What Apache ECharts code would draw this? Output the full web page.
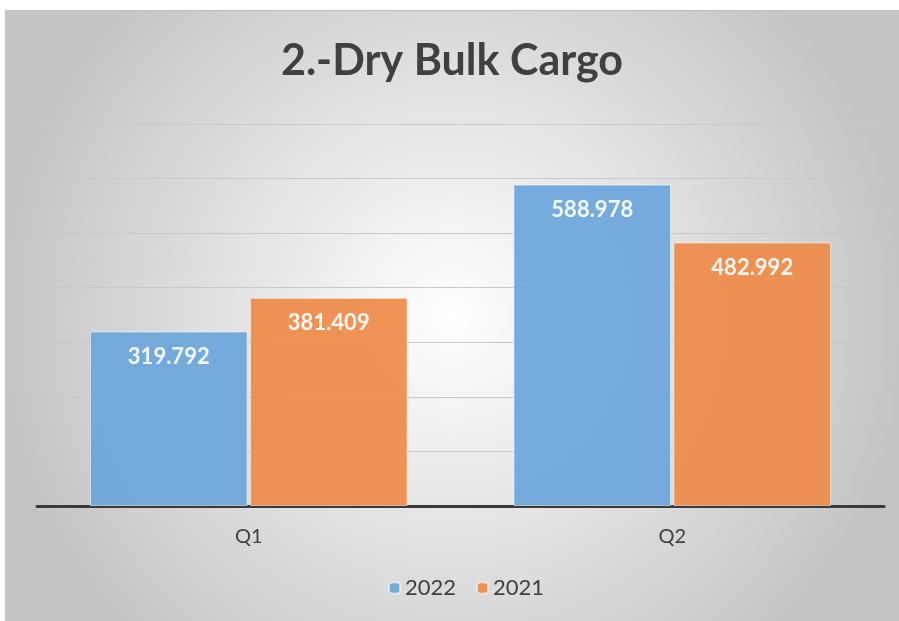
<!DOCTYPE html>
<html>
<head>
<meta charset="utf-8">
<script src="https://cdn.jsdelivr.net/npm/echarts@6/dist/echarts.min.js"></script>
<style>
  html, body { margin: 0; padding: 0; background: #fff; }
  #chart { position: absolute; left: 5px; top: 10px; width: 894px; height: 611px; border-top: 1px solid #bdbdbd; box-sizing: border-box; }
</style>
</head>
<body>
<div id="chart"></div>
<script>
var categories = ['Q1', 'Q2'];
var values2022 = [319.792, 588.978];
var values2021 = [381.409, 482.992];

(function () {
    var chartDom = document.getElementById('chart');
    var myChart = echarts.init(chartDom);

    var labelStyle = {
        show: true,
        position: 'insideTop',
        distance: 14,
        color: '#fff',
        fontFamily: 'Lato',
        fontWeight: 'bold',
        fontSize: 22,
        formatter: function (p) { return p.value.toFixed(3); }
    };

    var option = {
        backgroundColor: {
            type: 'radial', x: 0.5, y: 0.5, r: 0.75,
            colorStops: [
                { offset: 0, color: '#ffffff' },
                { offset: 1, color: '#c4c4c4' }
            ]
        },
        title: {
            text: '2.-Dry Bulk Cargo',
            left: 'center',
            top: 24,
            padding: [5, 5, 5, 19],
            textStyle: { fontFamily: 'Lato', fontWeight: 'bold', fontSize: 43, color: '#404040' }
        },
        legend: {
            bottom: 17,
            left: 378,
            itemWidth: 11,
            itemHeight: 11,
            itemGap: 20,
            textStyle: { fontFamily: 'Lato', fontSize: 22, color: '#404040' },
            data: ['2022', '2021']
        },
        grid: { left: 32, right: 15, top: 113, bottom: 115 },
        xAxis: {
            type: 'category',
            data: categories,
            axisLine: { lineStyle: { color: '#3a3a3a', width: 3 } },
            axisTick: { show: false },
            axisLabel: { fontFamily: 'Lato', fontSize: 20, color: '#404040', margin: 21 }
        },
        yAxis: {
            type: 'value',
            min: 0,
            max: 700,
            interval: 100,
            axisLabel: { show: false },
            axisLine: { show: false },
            axisTick: { show: false },
            splitLine: { lineStyle: { color: '#c8c8c8', width: 1 } }
        },
        series: [
            {
                name: '2022',
                type: 'bar',
                data: values2022,
                barGap: '1.5%',
                barCategoryGap: '25%',
                itemStyle: { color: '#6AA5DB', opacity: 0.92, borderColor: 'rgba(255,255,255,0.6)', borderWidth: 1 },
                label: labelStyle
            },
            {
                name: '2021',
                type: 'bar',
                data: values2021,
                itemStyle: { color: '#EE8A48', opacity: 0.92, borderColor: 'rgba(255,255,255,0.6)', borderWidth: 1 },
                label: labelStyle
            }
        ]
    };

    option && myChart.setOption(option);
})();
</script>
</body>
</html>
